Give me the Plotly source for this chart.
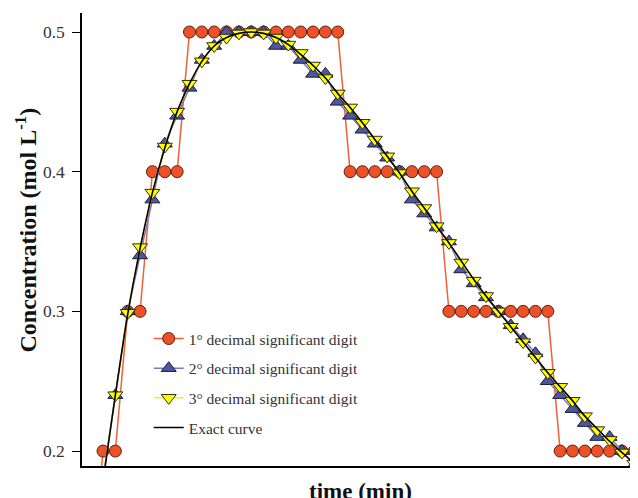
import plotly.graph_objects as go

# time index (min) – axis has no tick labels in the reference
time = [-1, 0, 1, 2, 3, 4, 5, 6, 7, 8, 9, 10, 11, 12, 13, 14, 15, 16, 17, 18, 19,
        20, 21, 22, 23, 24, 25, 26, 27, 28, 29, 30, 31, 32, 33, 34, 35, 36, 37, 38,
        39, 40, 41, 42, 43]

conc_1dec = [0.1, 0.2, 0.2, 0.3, 0.3, 0.4, 0.4, 0.4,
             0.5, 0.5, 0.5, 0.5, 0.5, 0.5, 0.5, 0.5, 0.5, 0.5, 0.5, 0.5, 0.5,
             0.4, 0.4, 0.4, 0.4, 0.4, 0.4, 0.4, 0.4,
             0.3, 0.3, 0.3, 0.3, 0.3, 0.3, 0.3, 0.3, 0.3,
             0.2, 0.2, 0.2, 0.2, 0.2, 0.2, 0.2]

conc_2dec = [None, 0.18, 0.24, 0.30, 0.34, 0.38, 0.42, 0.44, 0.46, 0.48, 0.49,
             0.50, 0.50, 0.50, 0.50, 0.49, 0.49, 0.48, 0.47, 0.47, 0.45,
             0.44, 0.43, 0.42, 0.41, 0.40, 0.38, 0.37, 0.36, 0.35, 0.33,
             0.32, 0.31, 0.30, 0.29, 0.28, 0.27, 0.25, 0.24, 0.23, 0.22,
             0.21, 0.21, 0.20, 0.19]

conc_3dec = [None, 0.180, 0.240, 0.299, 0.346, 0.385, 0.418, 0.443, 0.463, 0.479, 0.490,
             0.496, 0.499, 0.500, 0.499, 0.496, 0.491, 0.485, 0.476, 0.467, 0.456,
             0.446, 0.435, 0.423, 0.411, 0.399, 0.386, 0.374, 0.361, 0.349, 0.335,
             0.322, 0.311, 0.300, 0.289, 0.278, 0.267, 0.256, 0.246, 0.236, 0.225,
             0.215, 0.208, 0.199, 0.191]

conc_exact = [0.115, 0.178, 0.240, 0.298, 0.345, 0.385, 0.417, 0.443, 0.463, 0.479, 0.490,
              0.496, 0.499, 0.500, 0.499, 0.496, 0.491, 0.484, 0.476, 0.467, 0.456,
              0.446, 0.435, 0.423, 0.411, 0.399, 0.386, 0.374, 0.361, 0.349, 0.336,
              0.323, 0.311, 0.300, 0.289, 0.278, 0.267, 0.256, 0.246, 0.236, 0.225,
              0.216, 0.207, 0.199, 0.191]

y_ticks = [0.2, 0.3, 0.4, 0.5]
y_tick_labels = ["0.2", "0.3", "0.4", "0.5"]

FONT = "Liberation Serif, Times New Roman, serif"

fig = go.Figure()
fig.add_trace(go.Scatter(
    x=time, y=conc_1dec, mode="lines+markers", name="1° decimal significant digit",
    legendgroup="a",
    line=dict(color="#F0603A", width=1.5),
    marker=dict(symbol="circle", size=12, color="#EE5028",
                line=dict(color="#5a2010", width=1)),
))
fig.add_trace(go.Scatter(
    x=time, y=conc_2dec, mode="lines+markers", name="2° decimal significant digit",
    legendgroup="b",
    line=dict(color="#7A78C8", width=1.5),
    marker=dict(symbol="triangle-up", size=13, color="#4E579E",
                line=dict(color="#1a1a40", width=1)),
))
fig.add_trace(go.Scatter(
    x=time, y=conc_3dec, mode="lines+markers", name="3° decimal significant digit",
    legendgroup="c",
    line=dict(color="#F5F020", width=1.5),
    marker=dict(symbol="triangle-down", size=13, color="#FFFF00",
                line=dict(color="#303010", width=1)),
))
fig.add_trace(go.Scatter(
    x=time, y=conc_exact, mode="lines", name="Exact curve",
    legendgroup="d",
    line=dict(color="black", width=1.6, shape="spline", smoothing=0.8),
))

fig.update_layout(
    width=638, height=498,
    margin=dict(l=74, r=8, t=5, b=40),
    paper_bgcolor="white", plot_bgcolor="white",
    font=dict(family=FONT, color="#222222", size=16),
    showlegend=True,
    legend=dict(
        x=0.12, y=0.318, xanchor="left", yanchor="top",
        bgcolor="rgba(0,0,0,0)", font=dict(family=FONT, size=15.5, color="#333333"),
        tracegroupgap=6.5, itemwidth=30,
    ),
    xaxis=dict(
        range=[-1.7, 43.3], showgrid=False, zeroline=False,
        showticklabels=False, ticks="",
        showline=True, linecolor="black", linewidth=1.5,
    ),
    yaxis=dict(
        range=[0.1893, 0.5136], showgrid=False, zeroline=False,
        tickvals=y_ticks, ticktext=y_tick_labels,
        ticks="outside", ticklen=8, tickwidth=1.2, tickcolor="black",
        ticklabelstandoff=4,
        showline=True, linecolor="black", linewidth=1.5,
        tickfont=dict(family=FONT, size=17.5, color="#333333"),
    ),
    annotations=[
        dict(text="<b>time (min)</b>", xref="paper", yref="paper", x=0.5, y=0,
             xanchor="center", yanchor="top", yshift=-11, showarrow=False,
             font=dict(family=FONT, size=23, color="#111111")),
        dict(text="<b>Concentration (mol L<sup>-1</sup>)</b>", xref="paper", yref="paper",
             x=0, y=0.5, xanchor="center", yanchor="middle", xshift=-57, yshift=9,
             textangle=-90, showarrow=False,
             font=dict(family=FONT, size=24, color="#111111")),
    ],
)

fig.write_html("out.html")
